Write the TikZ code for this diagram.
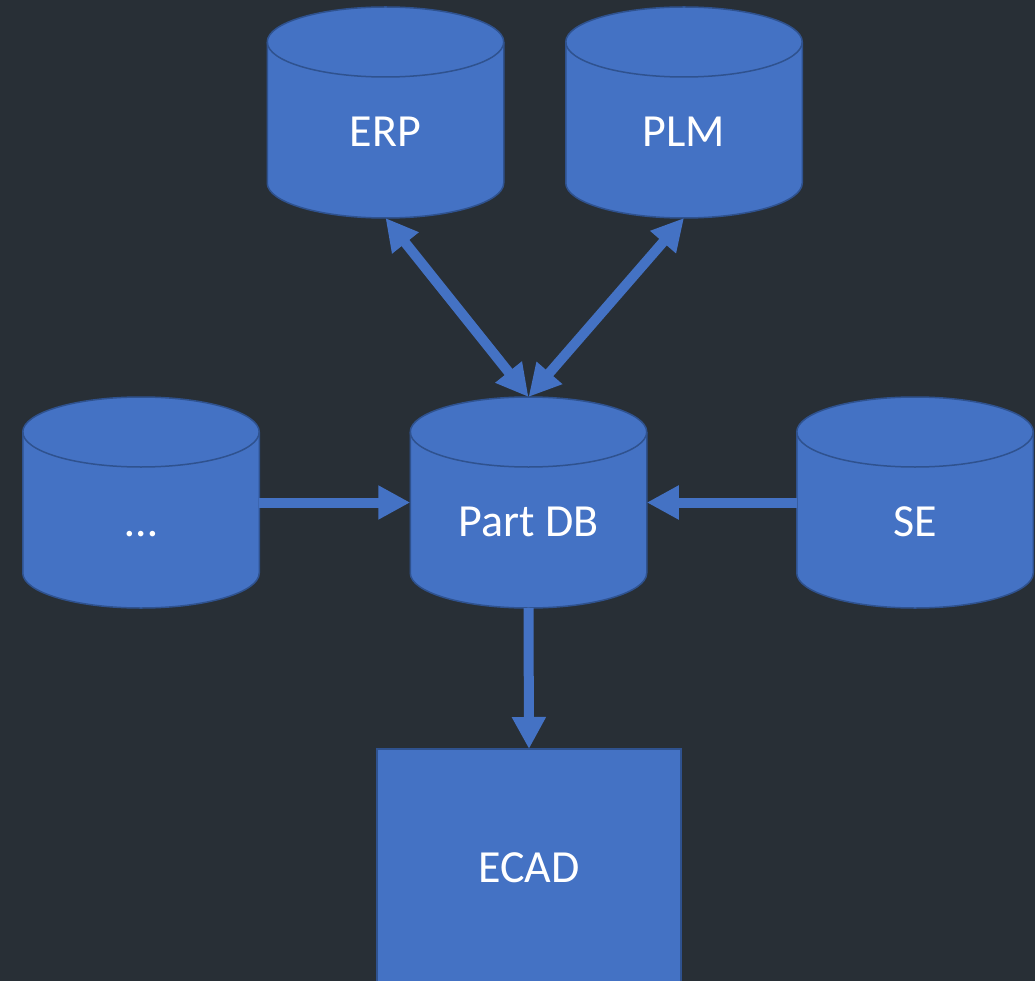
\documentclass[tikz,border=0pt]{standalone}
\usepackage{fontspec}
\setmainfont{Carlito}
\usetikzlibrary{arrows.meta}
\definecolor{bg}{HTML}{282F36}
\definecolor{fillblue}{HTML}{4472C4}
\definecolor{edgeblue}{HTML}{2F528F}
\begin{document}
\begin{tikzpicture}[x=1pt,y=-1pt,
  dbbox/.style={rectangle, minimum width=236.5pt, minimum height=211pt, inner sep=0pt, outer sep=0pt},
  cyl/.style={fill=fillblue, draw=edgeblue, line width=1.5pt},
  cyledge/.style={draw=edgeblue, line width=1.5pt},
  boxnode/.style={rectangle, fill=fillblue, draw=edgeblue, line width=1.5pt, minimum width=304pt, minimum height=251pt, inner sep=0pt, outer sep=0pt},
  lbl/.style={text=white, font=\fontsize{46}{55}\selectfont, anchor=base, inner sep=0pt},
  tip/.style={Triangle[length=32pt,width=32pt]},
  flow/.style={draw=fillblue, line width=10pt, -{Triangle[length=32pt,width=32pt]}},
  both/.style={draw=fillblue, line width=10pt, {Triangle[length=32pt,width=32pt]}-{Triangle[length=32pt,width=32pt]}}
]
\fill[bg] (0,0) rectangle (1035,981);
\useasboundingbox (0,0) rectangle (1035,981);

% database placeholders (cylinders are drawn around them)
\node[dbbox] (erp) at (385.5,112.5) {};
\node[dbbox] (plm) at (684,112.5) {};
\node[dbbox] (other) at (141,502.5) {};
\node[dbbox] (partdb) at (528.5,502.5) {};
\node[dbbox] (se) at (915,502.5) {};

\foreach \n in {erp,plm,other,partdb,se} {
  \draw[cyl] ([yshift=-35pt]\n.north west) -- ([yshift=35pt]\n.south west)
    arc[start angle=180, end angle=360, x radius=118.25pt, y radius=35pt]
    -- ([yshift=-35pt]\n.north east)
    arc[start angle=0, end angle=180, x radius=118.25pt, y radius=35pt] -- cycle;
  \draw[cyledge] ([yshift=-35pt]\n.north west)
    arc[start angle=180, end angle=360, x radius=118.25pt, y radius=35pt];
}

% ECAD box
\node[boxnode] (ecad) at (529,874.5) {};

% labels
\node[lbl] (erp-t) at (385.5,146.5) {ERP};
\node[lbl] (plm-t) at (684,146.5) {PLM};
\node[lbl] (other-t) at (141,536.5) {…};
\node[lbl] (partdb-t) at (528.5,536.5) {Part DB};
\node[lbl] (se-t) at (915,536.5) {SE};
\node[lbl] (ecad-t) at (529,882) {ECAD};

% connectors
\draw[both] (erp.south) -- (partdb.north);
\draw[both] (plm.south) -- (partdb.north);
\draw[flow] (other.east) -- (partdb.west);
\draw[flow] (se.west) -- (partdb.east);
\draw[flow] (partdb.south) -- (ecad.north);
\end{tikzpicture}
\end{document}
